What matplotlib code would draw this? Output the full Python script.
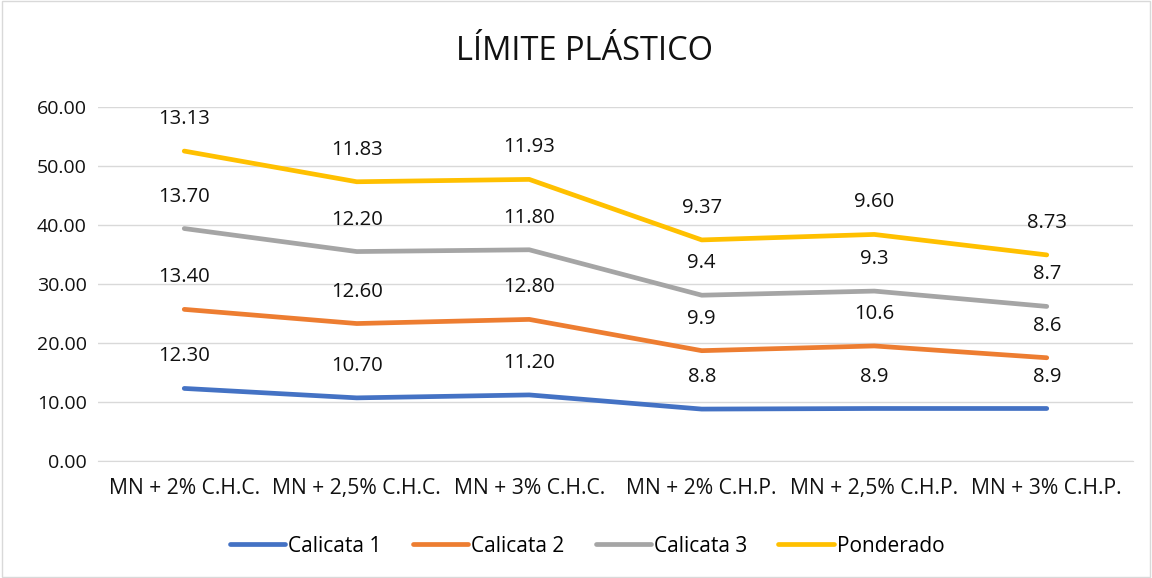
import matplotlib.pyplot as plt
import numpy as np

categorias = ["MN + 2% C.H.C.", "MN + 2,5% C.H.C.", "MN + 3% C.H.C.",
              "MN + 2% C.H.P.", "MN + 2,5% C.H.P.", "MN + 3% C.H.P."]

calicata1 = [12.30, 10.70, 11.20, 8.8, 8.9, 8.9]
calicata2 = [13.40, 12.60, 12.80, 9.9, 10.6, 8.6]
calicata3 = [13.70, 12.20, 11.80, 9.4, 9.3, 8.7]
ponderado = [13.13, 11.83, 11.93, 9.37, 9.60, 8.73]

etiq1 = ["12.30", "10.70", "11.20", "8.8", "8.9", "8.9"]
etiq2 = ["13.40", "12.60", "12.80", "9.9", "10.6", "8.6"]
etiq3 = ["13.70", "12.20", "11.80", "9.4", "9.3", "8.7"]
etiq4 = ["13.13", "11.83", "11.93", "9.37", "9.60", "8.73"]

series = [
    ("Calicata 1", calicata1, etiq1, "#4472C4"),
    ("Calicata 2", calicata2, etiq2, "#ED7D31"),
    ("Calicata 3", calicata3, etiq3, "#A5A5A5"),
    ("Ponderado", ponderado, etiq4, "#FFC000"),
]

plt.rcParams['font.family'] = ['Open Sans', 'DejaVu Sans']

fig = plt.figure(figsize=(11.52, 5.78), dpi=100)
ax = fig.add_axes([98 / 1152, 1 - 461 / 578, 1035 / 1152, 354 / 578])

x = np.arange(len(categorias))
acum = np.zeros(len(categorias))
for nombre, vals, etiq, color in series:
    acum = acum + np.array(vals)
    ax.plot(x, acum, color=color, lw=3.4, label=nombre, solid_capstyle='round')
    for xi, yi, t in zip(x, acum, etiq):
        ax.annotate(t, (xi, yi), xytext=(0, 23), textcoords='offset points',
                    ha='center', va='center', fontsize=14.6, color='#111111')

ax.set_xlim(-0.5, len(categorias) - 0.5)
ax.set_ylim(0, 60)
ax.set_yticks(np.arange(0, 61, 10))
ax.set_yticklabels([f"{v:.2f}" for v in np.arange(0, 61, 10)])
ax.set_xticks(x)
ax.set_xticklabels(categorias)
ax.tick_params(axis='both', length=0, labelsize=14, labelcolor='#111111')
ax.tick_params(axis='x', pad=12, labelsize=15.2)
ax.tick_params(axis='y', pad=8)
ax.grid(axis='y', color='#D9D9D9', lw=1)
ax.set_axisbelow(True)
for s in ['top', 'right', 'left']:
    ax.spines[s].set_visible(False)
ax.spines['bottom'].set_color('#D9D9D9')

fig.text(585 / 1152, 1 - 52 / 578, "LÍMITE PLÁSTICO", ha='center', va='center',
         fontsize=23.5, color='#111111')

fig.legend(loc='center', bbox_to_anchor=(587 / 1152, 1 - 546 / 578), ncol=4,
           frameon=False, fontsize=15, handlelength=2.65, columnspacing=1.5,
           handletextpad=0.15)

border = plt.Rectangle((0.002, 0.002), 0.996, 0.996, transform=fig.transFigure,
                       fill=False, edgecolor='#D9D9D9', lw=1)
fig.patches.append(border)

fig.savefig("out.png", dpi=100)
